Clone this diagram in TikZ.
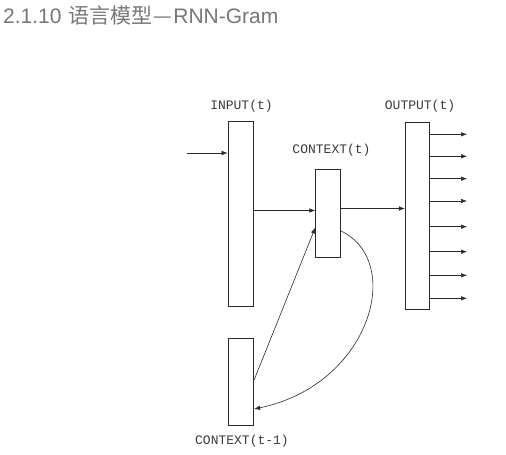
\documentclass[tikz,border=0pt]{standalone}
\usepackage{fontspec}
\newfontfamily\cjkfont{Noto Sans CJK SC}
\newfontfamily\latfont{Liberation Sans}
\newfontfamily\labfont{Liberation Mono}
\usetikzlibrary{arrows.meta}
\definecolor{titlegray}{HTML}{777777}
\definecolor{labgray}{HTML}{3A3A3A}
\definecolor{linegray}{HTML}{2A2A2A}
\tikzset{
  layer/.style={draw=linegray, line width=0.8bp, fill=white, inner sep=0pt, minimum width=25bp},
  lab/.style={font=\labfont\fontsize{13bp}{15bp}\selectfont, text=labgray, inner sep=0pt},
  conn/.style={draw=linegray, line width=0.6bp, -{Latex[length=6bp,width=4.5bp]}},
}
\begin{document}
\begin{tikzpicture}[x=1bp,y=-1bp]
\useasboundingbox (0,0) rectangle (506,455);
\node[anchor=base west, font=\latfont\fontsize{21bp}{23bp}\selectfont, text=titlegray, inner sep=0pt] (title) at (3,24) {2.1.10\hspace{7bp}{\cjkfont 语言模型\hspace{1bp}—\hspace{1bp}}RNN-Gram};
\node[layer, minimum height=185bp] (inp) at (240.5,214) {};
\node[layer, minimum height=88bp] (ctx) at (328.2,213) {};
\node[layer, minimum width=24bp, minimum height=187bp] (out) at (417.3,215.8) {};
\node[layer, minimum height=87bp] (ctxm) at (241.2,381.5) {};
\node[lab] (linp) at (241.5,106.5) {INPUT(t)};
\node[lab] (lctx) at (331.5,150) {CONTEXT(t)};
\node[lab] (lout) at (420,106) {OUTPUT(t)};
\node[lab] (lctxm) at (242,441) {CONTEXT(t-1)};
\coordinate (src) at (187,153);
\draw[conn] (src) -- (inp.west |- src);
\draw[conn] (inp.east |- 0,210.5) -- (ctx.west |- 0,210.5);
\draw[conn] (ctx.east |- 0,208.5) -- (out.west |- 0,208.5);
\foreach \y [count=\i] in {134.3,156.3,178.7,201,226.7,251.7,275.3,298.3}{
  \coordinate (o\i) at (467,\y);
  \draw[conn] (out.east |- o\i) -- (o\i);
}
\draw[conn] (ctxm.east |- 0,380) -- (ctx.west |- 0,227.5);
\draw[conn] (ctx.east |- 0,231) .. controls (405,262) and (370,385) .. (ctxm.east |- 0,409);
\end{tikzpicture}
\end{document}
